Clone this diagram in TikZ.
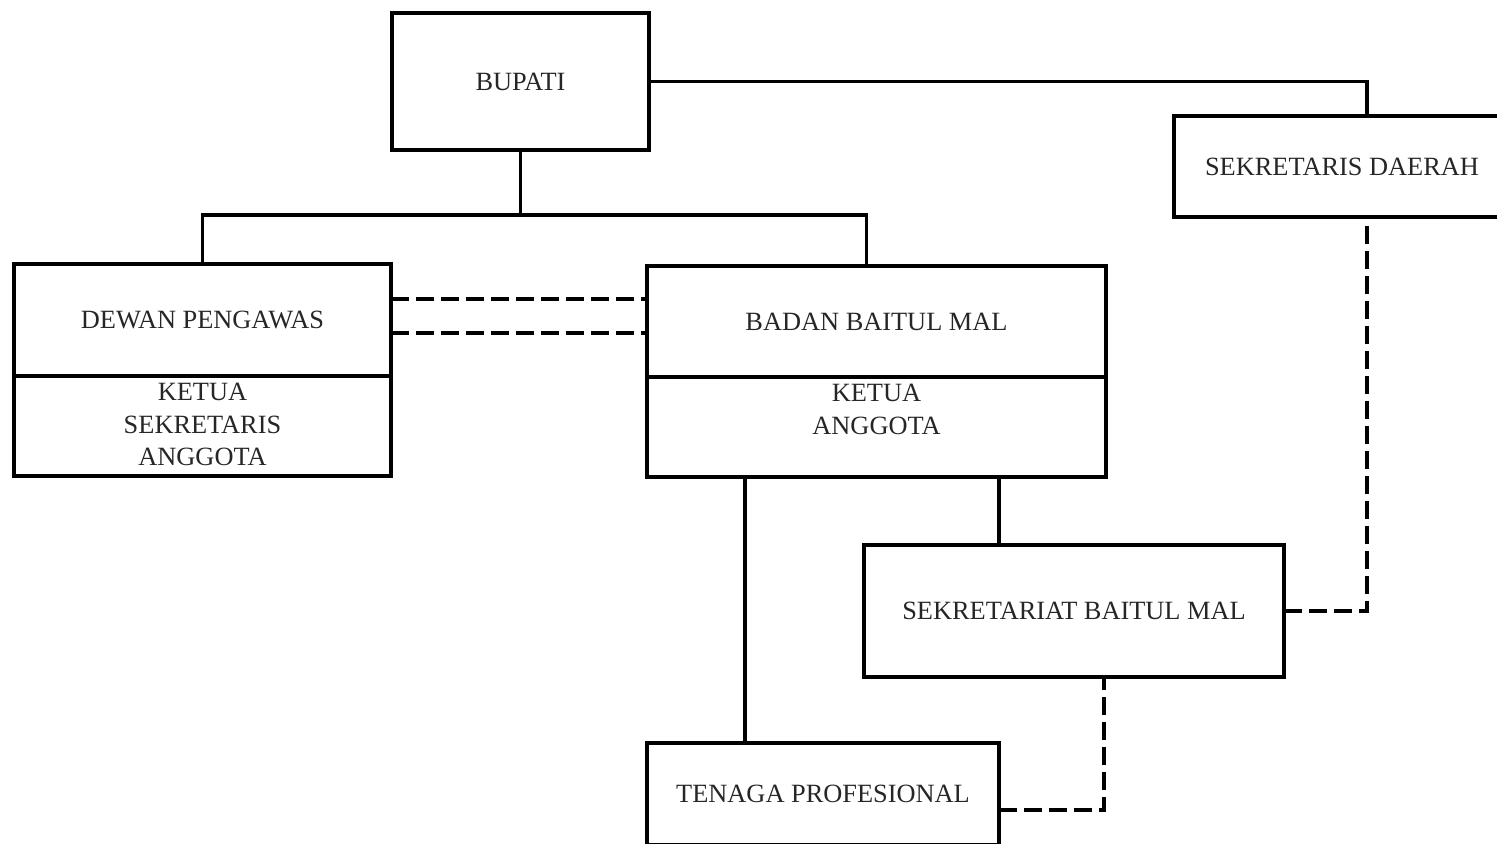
\documentclass[tikz,border=0pt]{standalone}
\usepackage{fontspec}
\setmainfont{Liberation Serif}
\usepackage{tikz}
\usetikzlibrary{calc}

\begin{document}
\begin{tikzpicture}[
  every node/.style={font=\fontsize{15}{18.5}\selectfont, align=center, text=black!85},
  unit/.style={rectangle, draw, line width=2pt, inner sep=0pt, outer sep=0pt},
  link/.style={line width=2pt},
  coord/.style={link, dash pattern=on 0.36cm off 0.14cm}
  ]
\useasboundingbox (0,0) rectangle (29.94,-16.86);

% Nodes
\node[unit, minimum width=5.14cm, minimum height=2.74cm] (bupati) at (10.41,-1.63) {BUPATI};
\node[unit, minimum width=6.72cm, minimum height=2.02cm] (sekda) at (26.84,-3.33) {SEKRETARIS DAERAH};
\node[unit, minimum width=7.54cm, minimum height=2.24cm] (dewan) at (4.05,-6.40) {DEWAN PENGAWAS};
\node[unit, minimum width=7.54cm, minimum height=2.00cm] (dewanbawah) at (4.05,-8.52) {};
\node[anchor=north] (dewanisi) at ([yshift=-0.02cm]dewanbawah.north) {KETUA\\ SEKRETARIS\\ ANGGOTA};
\node[unit, minimum width=9.18cm, minimum height=2.22cm] (badan) at (17.53,-6.43) {BADAN BAITUL MAL};
\node[unit, minimum width=9.18cm, minimum height=2.00cm] (badanbawah) at (17.53,-8.54) {};
\node[anchor=north] (badanisi) at ([yshift=-0.02cm]badanbawah.north) {KETUA\\ ANGGOTA};
\node[unit, minimum width=8.40cm, minimum height=2.64cm] (sekretariat) at (21.48,-12.22) {SEKRETARIAT BAITUL MAL};
\node[unit, minimum width=7.04cm, minimum height=2.04cm] (tenaga) at (16.46,-15.88) {TENAGA PROFESIONAL};
\coordinate (cabang) at ($(bupati.south)+(0,-1.30)$);

% Lines
\draw[link] (bupati.east) -| ([xshift=0.5cm]sekda.north);
\draw[link] (bupati.south) -- (cabang);
\draw[link] (dewan.north) |- (cabang) -| ([xshift=-0.2cm]badan.north);
\draw[link] ([xshift=-2.63cm]badanbawah.south) -- ([xshift=-2.63cm]badanbawah.south |- tenaga.north);
\draw[link] ([xshift=2.45cm]badanbawah.south) -- ([xshift=2.45cm]badanbawah.south |- sekretariat.north);
\draw[coord] ([yshift=0.42cm]dewan.east) -- ([yshift=0.42cm]dewan.east -| badan.west);
\draw[coord] ([yshift=-0.26cm]dewan.east) -- ([yshift=-0.26cm]dewan.east -| badan.west);
\draw[coord] (sekretariat.east) -| ([xshift=0.5cm]sekda.south);
\draw[coord] ([yshift=-0.32cm]tenaga.east) -| ([xshift=0.6cm]sekretariat.south);

\end{tikzpicture}
\end{document}
